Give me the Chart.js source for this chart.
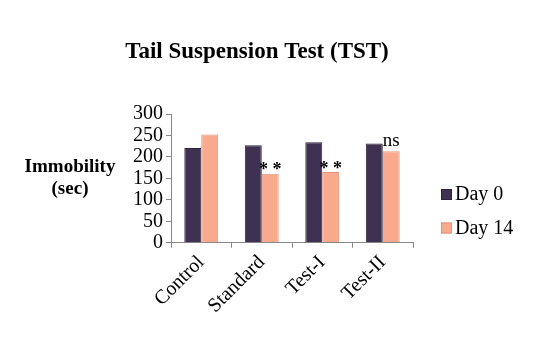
<!DOCTYPE html>
<html>
<head>
<meta charset="utf-8">
<script src="https://cdn.jsdelivr.net/npm/chart.js@4"></script>
<style>
  html, body { margin: 0; padding: 0; background: #fff; }
  #wrap { width: 543px; height: 342px; }
</style>
</head>
<body>
<div id="wrap"><canvas id="tstBar"></canvas></div>
<script>
const groups = ['Control', 'Standard', 'Test-I', 'Test-II'];
const day0 = [221, 227, 234, 231];
const day14 = [252, 161, 165, 213];
const day14Marks = ['', '**', '**', 'ns'];
const yTicks = [0, 50, 100, 150, 200, 250, 300];

const serif = '"Liberation Serif", "Times New Roman", "DejaVu Serif", serif';

// title, left axis caption, legend and significance marks
const extraText = {
	id: 'extraText',
	afterDraw(chart) {
		const ctx = chart.ctx;
		ctx.save();
		ctx.fillStyle = '#000';
		ctx.textAlign = 'center';
		ctx.textBaseline = 'middle';
		ctx.font = 'bold 23px ' + serif;
		ctx.fillText('Tail Suspension Test (TST)', 257, 52);
		ctx.font = 'bold 19px ' + serif;
		ctx.fillText('Immobility', 70, 167);
		ctx.fillText('(sec)', 70, 189);

		// legend, right of the plot
		ctx.textAlign = 'left';
		ctx.font = '20px ' + serif;
		chart.data.datasets.forEach((ds, i) => {
			const y = 195 + i * 33.5;
			ctx.fillStyle = ds.backgroundColor;
			ctx.fillRect(441, y - 6, 11, 11);
			ctx.strokeStyle = ds.borderColor;
			ctx.lineWidth = 1;
			ctx.strokeRect(441.5, y - 5.5, 10, 10);
			ctx.fillStyle = '#000';
			ctx.fillText(ds.label, 455, y);
		});

		const meta = chart.getDatasetMeta(1);
		ctx.textAlign = 'center';
		ctx.textBaseline = 'bottom';
		meta.data.forEach((bar, i) => {
			const m = day14Marks[i];
			if (!m) return;
			if (m === 'ns') {
				ctx.font = '19px ' + serif;
				ctx.fillText(m, bar.x, bar.y - 1);
			} else {
				ctx.font = 'bold 18px ' + serif;
				ctx.fillText(m.split('').join(' '), bar.x, bar.y + 6);
			}
		});
		ctx.restore();
	}
};

function draw() {
	new Chart(document.getElementById('tstBar'), {
		type: 'bar',
		data: {
			labels: groups,
			datasets: [{
				label: 'Day 0',
				data: day0,
				backgroundColor: '#3f3151',
				borderColor: '#2c2240',
				borderWidth: 1
			}, {
				label: 'Day 14',
				data: day14,
				backgroundColor: '#f9aa8e',
				borderColor: '#e29379',
				borderWidth: 1
			}]
		},
		options: {
			responsive: true,
			maintainAspectRatio: false,
			animation: false,
			layout: { padding: { left: 130, top: 114, bottom: 21, right: 130 } },
			datasets: { bar: { categoryPercentage: 0.56, barPercentage: 1.0 } },
			plugins: {
				title: { display: false },
				tooltip: { enabled: false },
				legend: { display: false }
			},
			scales: {
				x: {
					grid: { drawOnChartArea: false, drawTicks: true, tickLength: 5, color: '#888' },
					border: { color: '#888' },
					ticks: {
						color: '#000',
						maxRotation: 45,
						minRotation: 45,
						font: { family: serif, size: 20 }
					}
				},
				y: {
					min: 0,
					max: 300,
					afterBuildTicks(axis) { axis.ticks = yTicks.map(v => ({ value: v })); },
					grid: { drawOnChartArea: false, drawTicks: true, tickLength: 5, color: '#888' },
					border: { color: '#888' },
					ticks: {
						color: '#000',
						padding: 3,
						autoSkip: false,
						font: { family: serif, size: 20 }
					}
				}
			}
		},
		plugins: [extraText]
	});
}

if (document.fonts && document.fonts.load) {
	Promise.all([
		document.fonts.load('20px "Liberation Serif"'),
		document.fonts.load('bold 20px "Liberation Serif"')
	]).then(draw, draw);
} else {
	draw();
}
</script>
</body>
</html>
